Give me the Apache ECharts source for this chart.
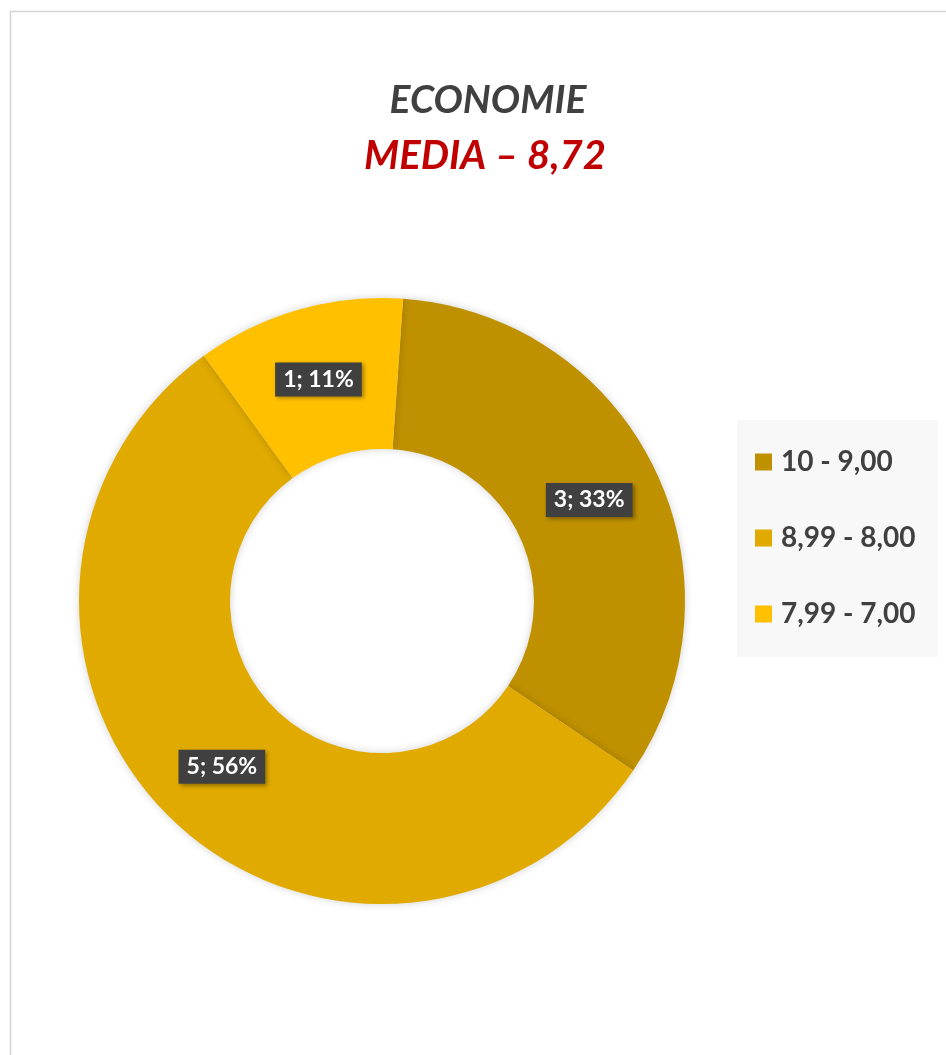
<!DOCTYPE html>
<html>
<head>
<meta charset="utf-8">
<script src="https://cdn.jsdelivr.net/npm/echarts@6/dist/echarts.min.js"></script>
<style>
  html, body { margin: 0; padding: 0; background: #fff; }
  #chart { width: 946px; height: 1055px; }
</style>
</head>
<body>
<div id="chart"></div>
<script>
// fasce di voto
var categories = ['10 - 9,00', '8,99 - 8,00', '7,99 - 7,00'];
// numero di studenti per fascia
var counts = [3, 5, 1];
var colors = ['#BF9000', '#E0AA00', '#FFC000'];

var myChart = echarts.init(document.getElementById('chart'));

var pieData = [];
for (var i = 0; i < categories.length; i++) {
  pieData.push({ name: categories[i], value: counts[i], itemStyle: { color: colors[i] } });
}

var fontFam = 'Lato, "Open Sans", sans-serif';

myChart.setOption({
  backgroundColor: '#fff',
  title: [
    {
      text: 'ECONOMIE',
      left: 483, top: 76, textAlign: 'center',
      textStyle: { fontFamily: fontFam, fontSize: 39, fontWeight: 'bold', fontStyle: 'italic', color: '#404040' }
    },
    {
      text: 'MEDIA – 8,72',
      left: 480, top: 131, textAlign: 'center',
      textStyle: { fontFamily: fontFam, fontSize: 40, fontWeight: 'bold', fontStyle: 'italic', color: '#C00000' }
    }
  ],
  graphic: [
    {
      type: 'rect',
      shape: { x: 10.5, y: 11.5, width: 960, height: 1060 },
      style: { fill: 'none', stroke: '#D4D4D4', lineWidth: 1.5 },
      silent: true
    }
  ],
  legend: {
    orient: 'vertical',
    left: 737,
    top: 420,
    padding: [28, 22, 29, 18],
    backgroundColor: '#F8F8F8',
    itemWidth: 17,
    itemHeight: 17,
    itemGap: 48,
    icon: 'rect',
    textStyle: { fontFamily: fontFam, fontSize: 28, fontWeight: 'bold', color: '#404040', lineHeight: 28, padding: [0, 0, 0, 4] },
    data: categories
  },
  series: [
    {
      type: 'pie',
      center: [382, 601],
      radius: [152, 303],
      startAngle: 86,
      clockwise: true,
      avoidLabelOverlap: false,
      itemStyle: {
        shadowBlur: 8,
        shadowColor: 'rgba(0,0,0,0.18)'
      },
      emphasis: { disabled: true },
      label: {
        show: true,
        position: 'inside',
        formatter: function (p) {
          return p.value + '; ' + Math.round(p.percent) + '%';
        },
        fontFamily: fontFam,
        fontSize: 23,
        fontWeight: 'bold',
        color: '#fff',
        backgroundColor: '#404040',
        padding: [6, 8, 5, 8],
        shadowBlur: 4,
        shadowOffsetX: 2,
        shadowOffsetY: 2,
        shadowColor: 'rgba(0,0,0,0.35)'
      },
      labelLine: { show: false },
      data: pieData
    }
  ]
});
</script>
</body>
</html>
